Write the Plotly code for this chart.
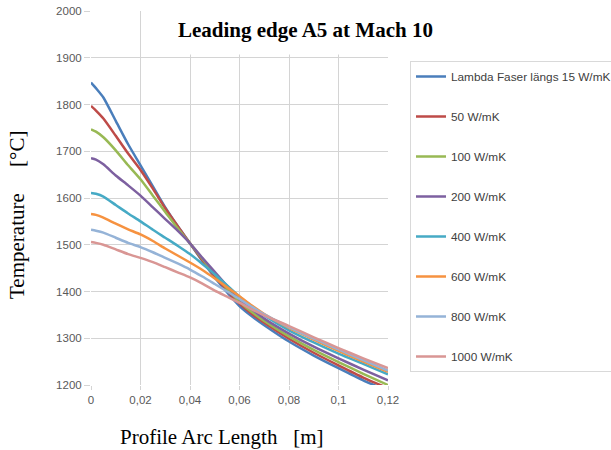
import plotly.graph_objects as go

arc_length = [0, 0.002, 0.005, 0.01, 0.015, 0.02, 0.025, 0.03, 0.035, 0.04, 0.045,
              0.05, 0.055, 0.06, 0.065, 0.07, 0.08, 0.09, 0.10, 0.11, 0.12]

t_15 = [1847, 1835, 1815, 1765, 1715, 1670, 1625, 1580, 1540, 1503, 1465,
        1430, 1398, 1369, 1347, 1328, 1293, 1263, 1236, 1210, 1187]
t_50 = [1797, 1787, 1770, 1733, 1695, 1660, 1620, 1578, 1540, 1503, 1467,
        1433, 1402, 1374, 1352, 1333, 1299, 1269, 1242, 1216, 1193]
t_100 = [1747, 1742, 1730, 1702, 1670, 1640, 1605, 1570, 1535, 1503, 1470,
         1437, 1406, 1378, 1356, 1337, 1304, 1275, 1249, 1224, 1200]
t_200 = [1685, 1682, 1672, 1648, 1627, 1605, 1580, 1555, 1530, 1503, 1472,
         1442, 1412, 1384, 1362, 1342, 1310, 1282, 1257, 1233, 1210]
t_400 = [1611, 1609, 1603, 1585, 1567, 1550, 1532, 1515, 1498, 1480, 1459,
         1437, 1413, 1389, 1368, 1349, 1317, 1291, 1267, 1245, 1223]
t_600 = [1566, 1564, 1558, 1545, 1533, 1522, 1508, 1492, 1477, 1462, 1446,
         1428, 1409, 1390, 1370, 1352, 1322, 1297, 1273, 1250, 1228]
t_800 = [1532, 1530, 1526, 1515, 1504, 1495, 1484, 1472, 1460, 1447, 1432,
         1416, 1400, 1384, 1367, 1351, 1324, 1299, 1276, 1253, 1231]
t_1000 = [1506, 1504, 1500, 1490, 1480, 1472, 1463, 1452, 1441, 1430, 1417,
          1402, 1389, 1376, 1362, 1349, 1326, 1302, 1279, 1257, 1236]

series_names = ["Lambda Faser längs 15 W/mK", "50 W/mK", "100 W/mK", "200 W/mK",
                "400 W/mK", "600 W/mK", "800 W/mK", "1000 W/mK"]
series_values = [t_15, t_50, t_100, t_200, t_400, t_600, t_800, t_1000]
series_colors = ["#4A7EBB", "#BE4B48", "#98B954", "#7D60A0",
                 "#46AAC5", "#F69240", "#95B3D7", "#D99694"]

x_tickvals = [0, 0.02, 0.04, 0.06, 0.08, 0.10, 0.12]
x_ticktext = ["0", "0,02", "0,04", "0,06", "0,08", "0,1", "0,12"]
y_tickvals = [1200, 1300, 1400, 1500, 1600, 1700, 1800, 1900, 2000]

fig = go.Figure()
for name, vals, col in zip(series_names, series_values, series_colors):
    fig.add_trace(go.Scatter(
        x=arc_length, y=vals, name=name, mode="lines", legendgroup=name,
        line=dict(color=col, width=2.5, shape="spline", smoothing=0.6),
    ))

grid_col = "#d4d4d4"
nb = "\u00a0"
fig.update_layout(
    width=611, height=450,
    margin=dict(l=91, r=223, t=11, b=65, autoexpand=False),
    paper_bgcolor="white", plot_bgcolor="white",
    showlegend=True,
    legend=dict(
        x=(410 - 91) / 297, xanchor="left", y=(385 - 61) / 374, yanchor="top",
        font=dict(family="Liberation Sans", size=11.8, color="#404040"),
        bordercolor="#d9d9d9", borderwidth=1, bgcolor="white",
        tracegroupgap=21,
    ),
    xaxis=dict(
        range=[0, 0.12], tickvals=x_tickvals, ticktext=x_ticktext,
        showgrid=True, gridcolor=grid_col, gridwidth=1.3,
        zeroline=False, showline=False,
        ticks="outside", ticklen=4, tickcolor=grid_col,
        tickfont=dict(family="Liberation Sans", size=11.5, color="#595959"),
    ),
    yaxis=dict(
        range=[1200, 2000], tickvals=y_tickvals,
        showgrid=True, gridcolor=grid_col, gridwidth=1.3,
        zeroline=False, showline=False,
        ticks="outside", ticklen=6, tickcolor=grid_col,
        tickfont=dict(family="Liberation Sans", size=11.5, color="#595959"),
    ),
    shapes=[dict(
        type="rect", xref="paper", yref="paper",
        x0=0.2155, x1=1.03, y0=0.884, y1=1.02,
        fillcolor="white", line=dict(width=0), layer="above",
    )],
    annotations=[
        dict(text="<b>Leading edge A5 at Mach 10</b>", xref="paper", yref="paper",
             x=(305 - 91) / 297, y=(385 - 30) / 374, xanchor="center", yanchor="middle",
             showarrow=False, font=dict(family="Liberation Serif", size=21, color="black")),
        dict(text="Profile Arc Length" + nb * 3 + "[m]", xref="paper", yref="paper",
             x=(222 - 91) / 297, y=(385 - 437) / 374, xanchor="center", yanchor="middle",
             showarrow=False, font=dict(family="Liberation Serif", size=21, color="black")),
        dict(text="Temperature" + nb * 5 + "[°C]", xref="paper", yref="paper",
             x=(17 - 91) / 297, y=(385 - 215) / 374, xanchor="center", yanchor="middle",
             textangle=-90,
             showarrow=False, font=dict(family="Liberation Serif", size=21, color="black")),
    ],
)

fig.write_html("out.html")
